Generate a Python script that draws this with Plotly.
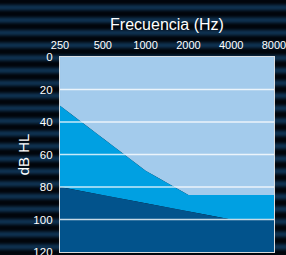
import math
import plotly.graph_objects as go

# Data
freqs = [250, 500, 1000, 2000, 4000, 8000]
freq_labels = ["250", "500", "1000", "2000", "4000", "8000"]
upper_boundary = [30, 50, 70, 85, 85, 85]     # light / medium blue boundary (dB HL)
lower_boundary = [80, 85, 90, 95, 100, 100]   # medium / dark blue boundary (dB HL)
db_ticks = [0, 20, 40, 60, 80, 100, 120]
db_min, db_max = 0, 120

LIGHT = "#a3cbec"
MEDIUM = "#00a0e2"
DARK = "#02538c"
FONT = "Liberation Sans, Arial, sans-serif"

W, H = 286, 255
ML, MR, MT, MB = 60, 12, 57, 3

fig = go.Figure()
# light band: from top (0 dB) down to the upper boundary
fig.add_trace(go.Scatter(x=freqs, y=[db_min] * len(freqs), mode="lines",
                         line=dict(width=0, color=LIGHT), hoverinfo="skip"))
fig.add_trace(go.Scatter(x=freqs, y=upper_boundary, mode="lines", fill="tonexty",
                         fillcolor=LIGHT, line=dict(width=0, color=LIGHT), hoverinfo="skip"))
# medium band: from upper boundary down to lower boundary
fig.add_trace(go.Scatter(x=freqs, y=lower_boundary, mode="lines", fill="tonexty",
                         fillcolor=MEDIUM, line=dict(width=0, color=MEDIUM), hoverinfo="skip"))
# dark band: from lower boundary to bottom
fig.add_trace(go.Scatter(x=freqs, y=[db_max] * len(freqs), mode="lines", fill="tonexty",
                         fillcolor=DARK, line=dict(width=0, color=DARK), hoverinfo="skip"))

shapes = []
# striped background (figure-wide), built in paper coords
plot_h = H - MT - MB
plot_w = W - ML - MR
period = 12.6
phase = 7.5
dark = (1, 5, 11)
bright = (14, 48, 78)
for py in range(H):
    t = 0.5 + 0.5 * math.cos(2 * math.pi * (py + 0.5 - phase) / period)
    t = t ** 1.3
    c = tuple(int(round(d + (b - d) * t)) for d, b in zip(dark, bright))
    y0 = (H - MB - (py + 1)) / plot_h
    y1 = (H - MB - py) / plot_h
    shapes.append(dict(type="rect", xref="paper", yref="paper",
                       x0=-ML / plot_w - 0.01, x1=1 + MR / plot_w + 0.01,
                       y0=y0, y1=y1, fillcolor="rgb(%d,%d,%d)" % c,
                       line=dict(width=0), layer="below"))

grid_col = "rgba(255,255,255,0.78)"
for f in freqs[1:-1]:
    shapes.append(dict(type="line", xref="x", yref="paper", x0=math.log10(f), x1=math.log10(f),
                       y0=0, y1=1, line=dict(color=grid_col, width=1.3), layer="above"))
for d in db_ticks[1:-1]:
    shapes.append(dict(type="line", xref="paper", yref="y", x0=0, x1=1, y0=d, y1=d,
                       line=dict(color=grid_col, width=1.3), layer="above"))

fig.update_layout(
    width=W, height=H,
    margin=dict(l=ML, r=MR, t=MT, b=MB, autoexpand=False),
    paper_bgcolor="rgb(2,8,16)",
    plot_bgcolor=LIGHT,
    showlegend=False,
    shapes=shapes,
    font=dict(family=FONT, color="white"),
)
eps = 1e-4
fig.update_xaxes(
    type="log", side="top", automargin=False, ticklabeloverflow="allow",
    range=[math.log10(freqs[0]) - eps, math.log10(freqs[-1]) + eps],
    tickvals=freqs, ticktext=freq_labels,
    tickfont=dict(size=11, color="white", family=FONT),
    ticks="outside", ticklen=2, tickcolor="rgba(0,0,0,0)",
    showgrid=False, zeroline=False,
    showline=True, mirror=True, linecolor="rgba(255,255,255,0.85)", linewidth=1.3,
    layer="above traces",
    title=dict(text="Frecuencia (Hz)", font=dict(size=16, color="white", family=FONT), standoff=4),
)
fig.update_yaxes(
    range=[db_max + 0.01, db_min - 0.01], automargin=False, ticklabeloverflow="allow",
    tickvals=db_ticks, ticktext=[str(v) for v in db_ticks],
    tickfont=dict(size=11.5, color="white", family=FONT),
    ticks="outside", ticklen=4, tickcolor="rgba(0,0,0,0)",
    showgrid=False, zeroline=False,
    showline=True, mirror=True, linecolor="rgba(255,255,255,0.85)", linewidth=1.3,
    layer="above traces",
    title=dict(text="dB HL", font=dict(size=15, color="white", family=FONT), standoff=0),
)

fig.write_html(
    "out.html",
    config={"displayModeBar": False},
    post_script="document.body.style.margin='0';document.body.style.overflow='hidden';",
)
